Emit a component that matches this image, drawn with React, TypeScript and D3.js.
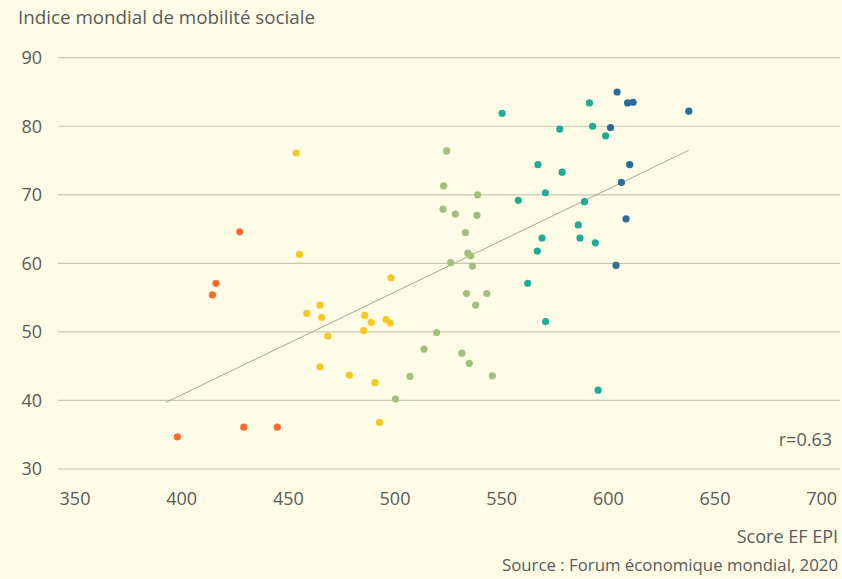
import { useEffect, useRef } from "react";
import * as d3 from "d3";

// Score EF EPI (x) vs Indice mondial de mobilité sociale (y), one array per group
const orangeX = [427.2, 416.1, 414.4, 398, 429.1, 444.8];
const orangeY = [64.6, 57.1, 55.4, 34.7, 36.1, 36.1];

const yellowX = [453.7, 455.2, 498.1, 464.8, 458.6, 465.6, 485.8, 488.8, 495.8, 497.7, 485.3, 468.5, 464.8, 478.6, 490.6, 492.7];
const yellowY = [76.1, 61.3, 57.9, 53.9, 52.7, 52.1, 52.4, 51.4, 51.8, 51.3, 50.2, 49.4, 44.9, 43.7, 42.6, 36.8];

const greenX = [524.2, 522.8, 538.7, 522.5, 528.3, 538.4, 533, 534.1, 535.5, 526.1, 536.3, 533.5, 543, 537.8, 519.5, 513.6, 531.3, 534.8, 507, 545.6, 500.2];
const greenY = [76.4, 71.3, 70.0, 67.9, 67.2, 67.0, 64.5, 61.5, 61.1, 60.1, 59.6, 55.6, 55.6, 53.9, 49.9, 47.5, 46.9, 45.4, 43.5, 43.6, 40.2];

const tealX = [550.2, 591.1, 577.2, 592.6, 598.7, 567, 578.3, 570.5, 557.8, 588.8, 585.9, 568.9, 586.7, 593.9, 566.7, 562.2, 570.6, 595.2];
const tealY = [81.9, 83.4, 79.6, 80.0, 78.6, 74.4, 73.3, 70.3, 69.2, 69.0, 65.6, 63.7, 63.7, 63.0, 61.8, 57.1, 51.5, 41.5];

const blueX = [604.1, 609, 611.6, 637.7, 601, 610, 606.1, 608.3, 603.6];
const blueY = [85.0, 83.4, 83.5, 82.2, 79.8, 74.4, 71.8, 66.5, 59.7];

// fitted line
const trendX = [392.5, 637.7];
const trendY = [39.7, 76.5];

const xTicks = [350, 400, 450, 500, 550, 600, 650, 700];
const yTicks = [30, 40, 50, 60, 70, 80, 90];

const groups = [
    { xs: orangeX, ys: orangeY, color: "#ff6a2f" },
    { xs: yellowX, ys: yellowY, color: "#f5c824" },
    { xs: greenX, ys: greenY, color: "#a3bf7e" },
    { xs: tealX, ys: tealY, color: "#1fac94" },
    { xs: blueX, ys: blueY, color: "#2b6c9a" },
];

const width = 842;
const height = 579;
const font = "'Open Sans', sans-serif";
const textColor = "#5a5a5a";

export default function App() {
    const svgRef = useRef<SVGSVGElement>(null);

    useEffect(() => {
        const svg = d3.select(svgRef.current);
        svg.selectAll("*").remove();

        const x = d3.scaleLinear().domain([350, 700]).range([75, 821.7]);
        const y = d3.scaleLinear().domain([30, 90]).range([469, 57.7]);
        const gridLeft = 58;
        const gridRight = 840;

        svg.append("rect").attr("width", width).attr("height", height).attr("fill", "#fefce6");

        // horizontal grid
        svg.append("g")
            .selectAll("line")
            .data(yTicks)
            .join("line")
            .attr("x1", gridLeft)
            .attr("x2", gridRight)
            .attr("y1", d => y(d))
            .attr("y2", d => y(d))
            .attr("stroke", "#cbc6ae")
            .attr("stroke-width", 1.2);

        // y labels
        svg.append("g")
            .selectAll("text")
            .data(yTicks)
            .join("text")
            .attr("x", 42)
            .attr("y", d => y(d))
            .attr("dy", "0.35em")
            .attr("text-anchor", "end")
            .attr("font-family", font)
            .attr("font-size", 18)
            .attr("fill", textColor)
            .text(d => d);

        // x labels
        svg.append("g")
            .selectAll("text")
            .data(xTicks)
            .join("text")
            .attr("x", d => x(d))
            .attr("y", 505)
            .attr("text-anchor", "middle")
            .attr("font-family", font)
            .attr("font-size", 18)
            .attr("fill", textColor)
            .text(d => d);

        // trend line
        svg.append("line")
            .attr("x1", x(trendX[0]))
            .attr("y1", y(trendY[0]))
            .attr("x2", x(trendX[1]))
            .attr("y2", y(trendY[1]))
            .attr("stroke", "#a8a593")
            .attr("stroke-width", 1);

        // points
        groups.forEach(grp => {
            svg.append("g")
                .selectAll("circle")
                .data(d3.range(grp.xs.length))
                .join("circle")
                .attr("cx", i => x(grp.xs[i]))
                .attr("cy", i => y(grp.ys[i]))
                .attr("r", 3.6)
                .attr("fill", grp.color);
        });

        svg.append("text")
            .attr("x", 18)
            .attr("y", 24)
            .attr("font-family", font)
            .attr("font-size", 18.8)
            .attr("fill", textColor)
            .text("Indice mondial de mobilité sociale");

        svg.append("text")
            .attr("x", 832)
            .attr("y", 445.5)
            .attr("text-anchor", "end")
            .attr("font-family", font)
            .attr("font-size", 18)
            .attr("fill", textColor)
            .text("r=0.63");

        svg.append("text")
            .attr("x", 838)
            .attr("y", 542.5)
            .attr("text-anchor", "end")
            .attr("font-family", font)
            .attr("font-size", 18)
            .attr("fill", textColor)
            .text("Score EF EPI");

        svg.append("text")
            .attr("x", 838)
            .attr("y", 571)
            .attr("text-anchor", "end")
            .attr("font-family", font)
            .attr("font-size", 16.8)
            .attr("fill", textColor)
            .text("Source : Forum économique mondial, 2020");
    }, []);

    return (
        <svg
            ref={svgRef}
            width={width}
            height={height}
            style={{ position: "absolute", left: 0, top: 0, display: "block" }}
        />
    );
}
